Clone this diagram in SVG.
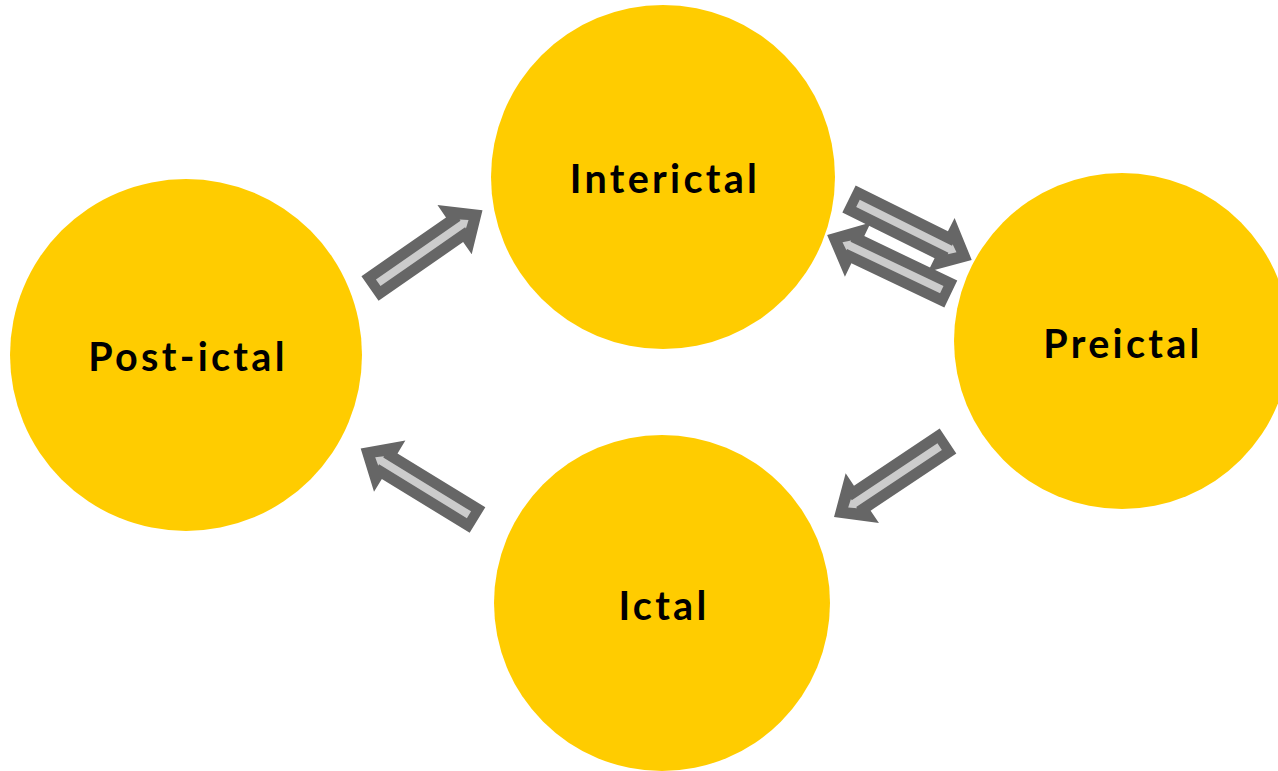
<svg xmlns="http://www.w3.org/2000/svg" width="1278" height="771" viewBox="0 0 1278 771">
<style>
.node{fill:#FFCC00}
.lbl{font-family:Lato,"Open Sans","Liberation Sans",sans-serif;font-weight:bold;font-size:39.5px;letter-spacing:3.3px;fill:#000;text-anchor:middle}
.outer{fill:#666666}
.inner{fill:#CCCCCC}
</style>
<defs>
<g id="arr">
<polygon class="outer" points="0,-15 103,-15 103,-30 137,0 103,30 103,15 0,15"/>
<polygon class="inner" points="10,-4 113,-4 113,-5.5 120,0 113,5.5 113,4 10,4"/>
</g>
</defs>
<rect width="1278" height="771" fill="#fff"/>
<g id="post-ictal"><circle class="node" cx="186" cy="355" r="176"/><text class="lbl" x="188" y="371">Post-ictal</text></g>
<g id="interictal"><circle class="node" cx="663" cy="177" r="172"/><text class="lbl" x="665" y="193">Interictal</text></g>
<g id="preictal"><circle class="node" cx="1122" cy="341" r="168"/><text class="lbl" x="1123" y="358">Preictal</text></g>
<g id="ictal"><circle class="node" cx="662" cy="603" r="168"/><text class="lbl" x="664" y="620">Ictal</text></g>
<g id="connectors">
<use href="#arr" transform="translate(370,288.5) rotate(-34.8)"/>
<use href="#arr" transform="translate(849,199) rotate(26.4)"/>
<use href="#arr" transform="translate(950.8,294) rotate(205.5)"/>
<use href="#arr" transform="translate(948,441) rotate(146.3)"/>
<use href="#arr" transform="translate(477.5,520) rotate(211.5)"/>
</g>
</svg>
